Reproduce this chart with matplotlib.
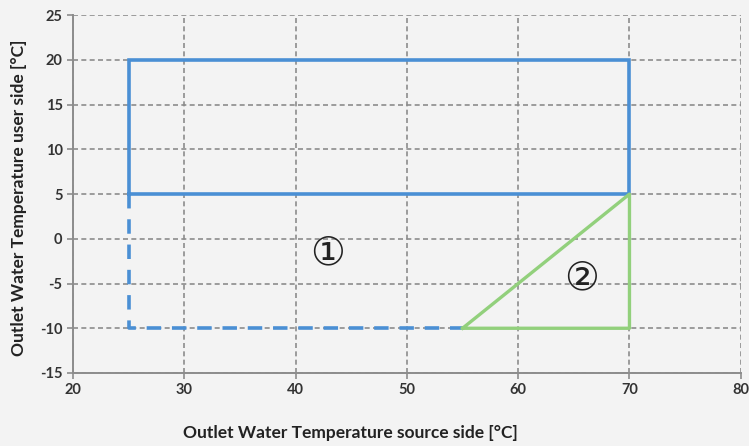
import matplotlib.pyplot as plt

plt.rcParams['axes.unicode_minus'] = False

# operating envelope outlines (source side temp, user side temp)
rect_x = [25, 70, 70, 25, 25]
rect_y = [5, 5, 20, 20, 5]
ext_x = [25, 25, 55]
ext_y = [5, -10, -10]
tri_x = [55, 70, 70, 55]
tri_y = [-10, 5, -10, -10]

xticks = [20, 30, 40, 50, 60, 70, 80]
yticks = [-15, -10, -5, 0, 5, 10, 15, 20, 25]

bg = '#f3f3f3'
fig = plt.figure(figsize=(7.49, 4.46), dpi=100, facecolor=bg)
ax = fig.add_axes([0.0975, 0.1637, 0.8915, 0.8023])
ax.set_facecolor(bg)

ax.plot(rect_x, rect_y, color='#4a8fd4', lw=2.6, solid_joinstyle='miter', zorder=3)
ax.plot(ext_x, ext_y, color='#4a8fd4', lw=2.6, dashes=(4, 3), zorder=3)
ax.plot(tri_x, tri_y, color='#92d07c', lw=2.4, zorder=3)

ax.text(42.9, -1.6, '①', fontsize=28, ha='center', va='center', color='#222222',
        family=['DejaVu Sans', 'Noto Sans CJK JP'])
ax.text(65.7, -4.4, '②', fontsize=28, ha='center', va='center', color='#222222',
        family=['DejaVu Sans', 'Noto Sans CJK JP'])

ax.set_xlim(20, 80)
ax.set_ylim(-15, 25)
ax.set_xticks(xticks)
ax.set_yticks(yticks)
ax.grid(True, color='#8c8c8c', ls=(0, (3, 2)), lw=1.2)
ax.set_axisbelow(True)

for s in ['top', 'right']:
    ax.spines[s].set_visible(False)
for s in ['left', 'bottom']:
    ax.spines[s].set_color('#8c8c8c')
    ax.spines[s].set_linewidth(1.4)
ax.tick_params(direction='out', length=4, color='#8c8c8c', width=1.2,
               labelsize=10.5, labelcolor='#333333')
for lab in ax.get_xticklabels() + ax.get_yticklabels():
    lab.set_fontfamily('Lato')
    lab.set_fontweight('bold')

ax.set_xlabel('Outlet Water Temperature source side [°C]', fontsize=12.5,
              fontweight='bold', family='Lato', color='#222222')
ax.xaxis.set_label_coords(0.415, -0.145)
ax.set_ylabel('Outlet Water Temperature user side [°C]', fontsize=12.5,
              fontweight='bold', family='Lato', color='#222222')
ax.yaxis.set_label_coords(-0.069, 0.49)

fig.savefig('out.png', dpi=100, facecolor=bg)
